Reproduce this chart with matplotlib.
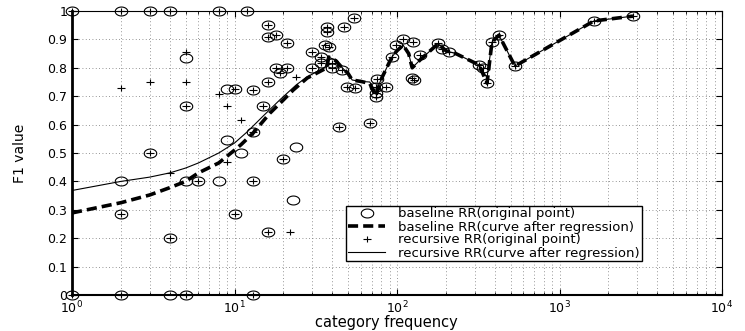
import matplotlib
matplotlib.use("Agg")
import matplotlib.pyplot as plt
from matplotlib.path import Path
import numpy as np

# points shared by both methods (circle with a plus inside)
both_x = [1, 2, 3, 4, 8, 12, 1, 2, 5, 13,
          5, 10, 13, 15, 13, 3, 6, 13, 2, 10, 4, 20, 16,
          16, 16, 18, 21, 54, 37, 37, 47, 36, 38, 30, 34, 34, 40,
          18, 21, 19, 30, 40, 46, 16, 49, 55, 75, 86, 74, 74, 74,
          44, 68, 93, 98, 109, 125, 138, 123, 128, 179, 190, 208,
          320, 340, 358, 384, 424, 532, 1630, 2834]
both_y = [1, 1, 1, 1, 1, 1, 0, 0, 0, 0,
          0.667, 0.727, 0.722, 0.667, 0.573, 0.5, 0.4, 0.4, 0.286, 0.286, 0.2, 0.478, 0.222,
          0.952, 0.91, 0.917, 0.889, 0.975, 0.944, 0.926, 0.944, 0.882, 0.875, 0.857, 0.838, 0.818, 0.818,
          0.8, 0.8, 0.78, 0.8, 0.8, 0.792, 0.75, 0.733, 0.729, 0.76, 0.732, 0.732, 0.71, 0.697,
          0.592, 0.605, 0.838, 0.88, 0.9, 0.89, 0.845, 0.764, 0.757, 0.887, 0.866, 0.856,
          0.81, 0.80, 0.746, 0.89, 0.915, 0.806, 0.965, 0.982]

# baseline only (circle)
base_only_x = [4, 5, 9, 9, 11, 2, 5, 8, 24, 23]
base_only_y = [0, 0.833, 0.727, 0.547, 0.5, 0.4, 0.4, 0.4, 0.522, 0.333]

# recursive only (plus)
rec_only_x = [2, 3, 5, 5, 8, 9, 11, 9, 4, 22, 24]
rec_only_y = [0.729, 0.75, 0.857, 0.75, 0.707, 0.667, 0.617, 0.468, 0.43, 0.222, 0.768]

# regression curves
base_curve_x = [1, 2, 3, 4, 5, 6, 8, 10, 11, 13, 16.5, 20, 23, 28, 33, 37, 38,
                42, 46, 50, 53, 60, 68, 74, 80, 93, 100, 109, 118, 124, 140,
                179, 200, 230, 320, 358, 384, 424, 532, 1630, 2834]
base_curve_y = [0.289, 0.325, 0.352, 0.378, 0.40, 0.43, 0.465, 0.51, 0.53, 0.57, 0.64, 0.687, 0.722, 0.764, 0.785, 0.80, 0.838,
                0.825, 0.80, 0.78, 0.757, 0.752, 0.745, 0.70, 0.76, 0.838, 0.86, 0.88, 0.85, 0.80, 0.83,
                0.885, 0.86, 0.85, 0.81, 0.746, 0.89, 0.915, 0.806, 0.965, 0.982]
rec_curve_x = [1, 2, 3, 4, 5, 6, 8, 10, 12, 15, 19, 24, 28, 33, 36, 38,
               42, 46, 50, 53, 60, 68, 74, 80, 93, 100, 109, 118, 124, 140,
               179, 200, 230, 320, 358, 384, 424, 532, 1630, 2834]
rec_curve_y = [0.368, 0.40, 0.415, 0.43, 0.447, 0.465, 0.50, 0.535, 0.575, 0.63, 0.687, 0.74, 0.768, 0.79, 0.80, 0.838,
               0.825, 0.80, 0.78, 0.757, 0.752, 0.75, 0.715, 0.76, 0.838, 0.86, 0.88, 0.85, 0.80, 0.83,
               0.885, 0.86, 0.85, 0.81, 0.765, 0.89, 0.915, 0.806, 0.965, 0.982]

y_ticks = [0, 0.1, 0.2, 0.3, 0.4, 0.5, 0.6, 0.7, 0.8, 0.9, 1]
y_labels = ["0", "0.1", "0.2", "0.3", "0.4", "0.5", "0.6", "0.7", "0.8", "0.9", "1"]

base_x = both_x + base_only_x
base_y = both_y + base_only_y
rec_x = both_x + rec_only_x
rec_y = both_y + rec_only_y

plt.rcParams["font.family"] = "DejaVu Sans"

# wide ellipse / wide plus, the original image is stretched sideways
t = np.linspace(0, 2 * np.pi, 41)
ellipse = Path(np.column_stack([1.4 * np.cos(t), np.sin(t)]))
plus = Path([(-1.2, 0), (1.2, 0), (0, -1), (0, 1)],
            [Path.MOVETO, Path.LINETO, Path.MOVETO, Path.LINETO])

fig = plt.figure(figsize=(7.45, 3.31), dpi=100)
ax = fig.add_axes([72 / 745, 1 - 295 / 331, 650 / 745, 284 / 331])

ax.plot(base_x, base_y, linestyle="none", marker=ellipse, ms=9, mfc="none", mec="black",
        mew=0.8, clip_on=False, zorder=3, label="baseline RR(original point)")
ax.plot(base_curve_x, base_curve_y, "--", color="black", lw=2.6, dashes=(2.8, 1.4),
        zorder=4, label="baseline RR(curve after regression)")
ax.plot(rec_x, rec_y, linestyle="none", marker=plus, ms=6, mec="black",
        mew=0.8, clip_on=False, zorder=3, label="recursive RR(original point)")
ax.plot(rec_curve_x, rec_curve_y, "-", color="black", lw=0.8,
        zorder=4, label="recursive RR(curve after regression)")

ax.set_xscale("log")
ax.set_xlim(1, 1e4)
ax.set_ylim(0, 1)
ax.set_yticks(y_ticks)
ax.set_yticklabels(y_labels)

ax.xaxis.grid(True, which="both", linestyle=(0, (1, 3)), color="0.45", lw=0.6)
ax.yaxis.grid(True, which="major", linestyle=(0, (1, 3)), color="0.45", lw=0.6)
ax.tick_params(which="both", direction="in", top=True, right=True, labelsize=9)
ax.tick_params(which="major", length=4)
ax.tick_params(which="minor", length=2)

ax.spines["left"].set_linewidth(2)
ax.spines["bottom"].set_linewidth(1.5)
ax.spines["top"].set_linewidth(0.8)
ax.spines["right"].set_linewidth(0.8)

ax.set_xlabel("category frequency", fontsize=10.5)
ax.set_ylabel("F1 value", fontsize=10)
ax.xaxis.set_label_coords(0.483, -(315 - 295) / 284)
ax.yaxis.set_label_coords(-(72 - 27) / 650, 0.5)

leg = ax.legend(loc="center", bbox_to_anchor=(494 / 745, 1 - 233.5 / 331),
                bbox_transform=fig.transFigure, fontsize=9.5, fancybox=False,
                framealpha=1, edgecolor="black", borderaxespad=0, labelspacing=0.0,
                handlelength=2.8, borderpad=0.15, handletextpad=1.0)
leg.get_frame().set_linewidth(1)

fig.savefig("out.png", dpi=100)
